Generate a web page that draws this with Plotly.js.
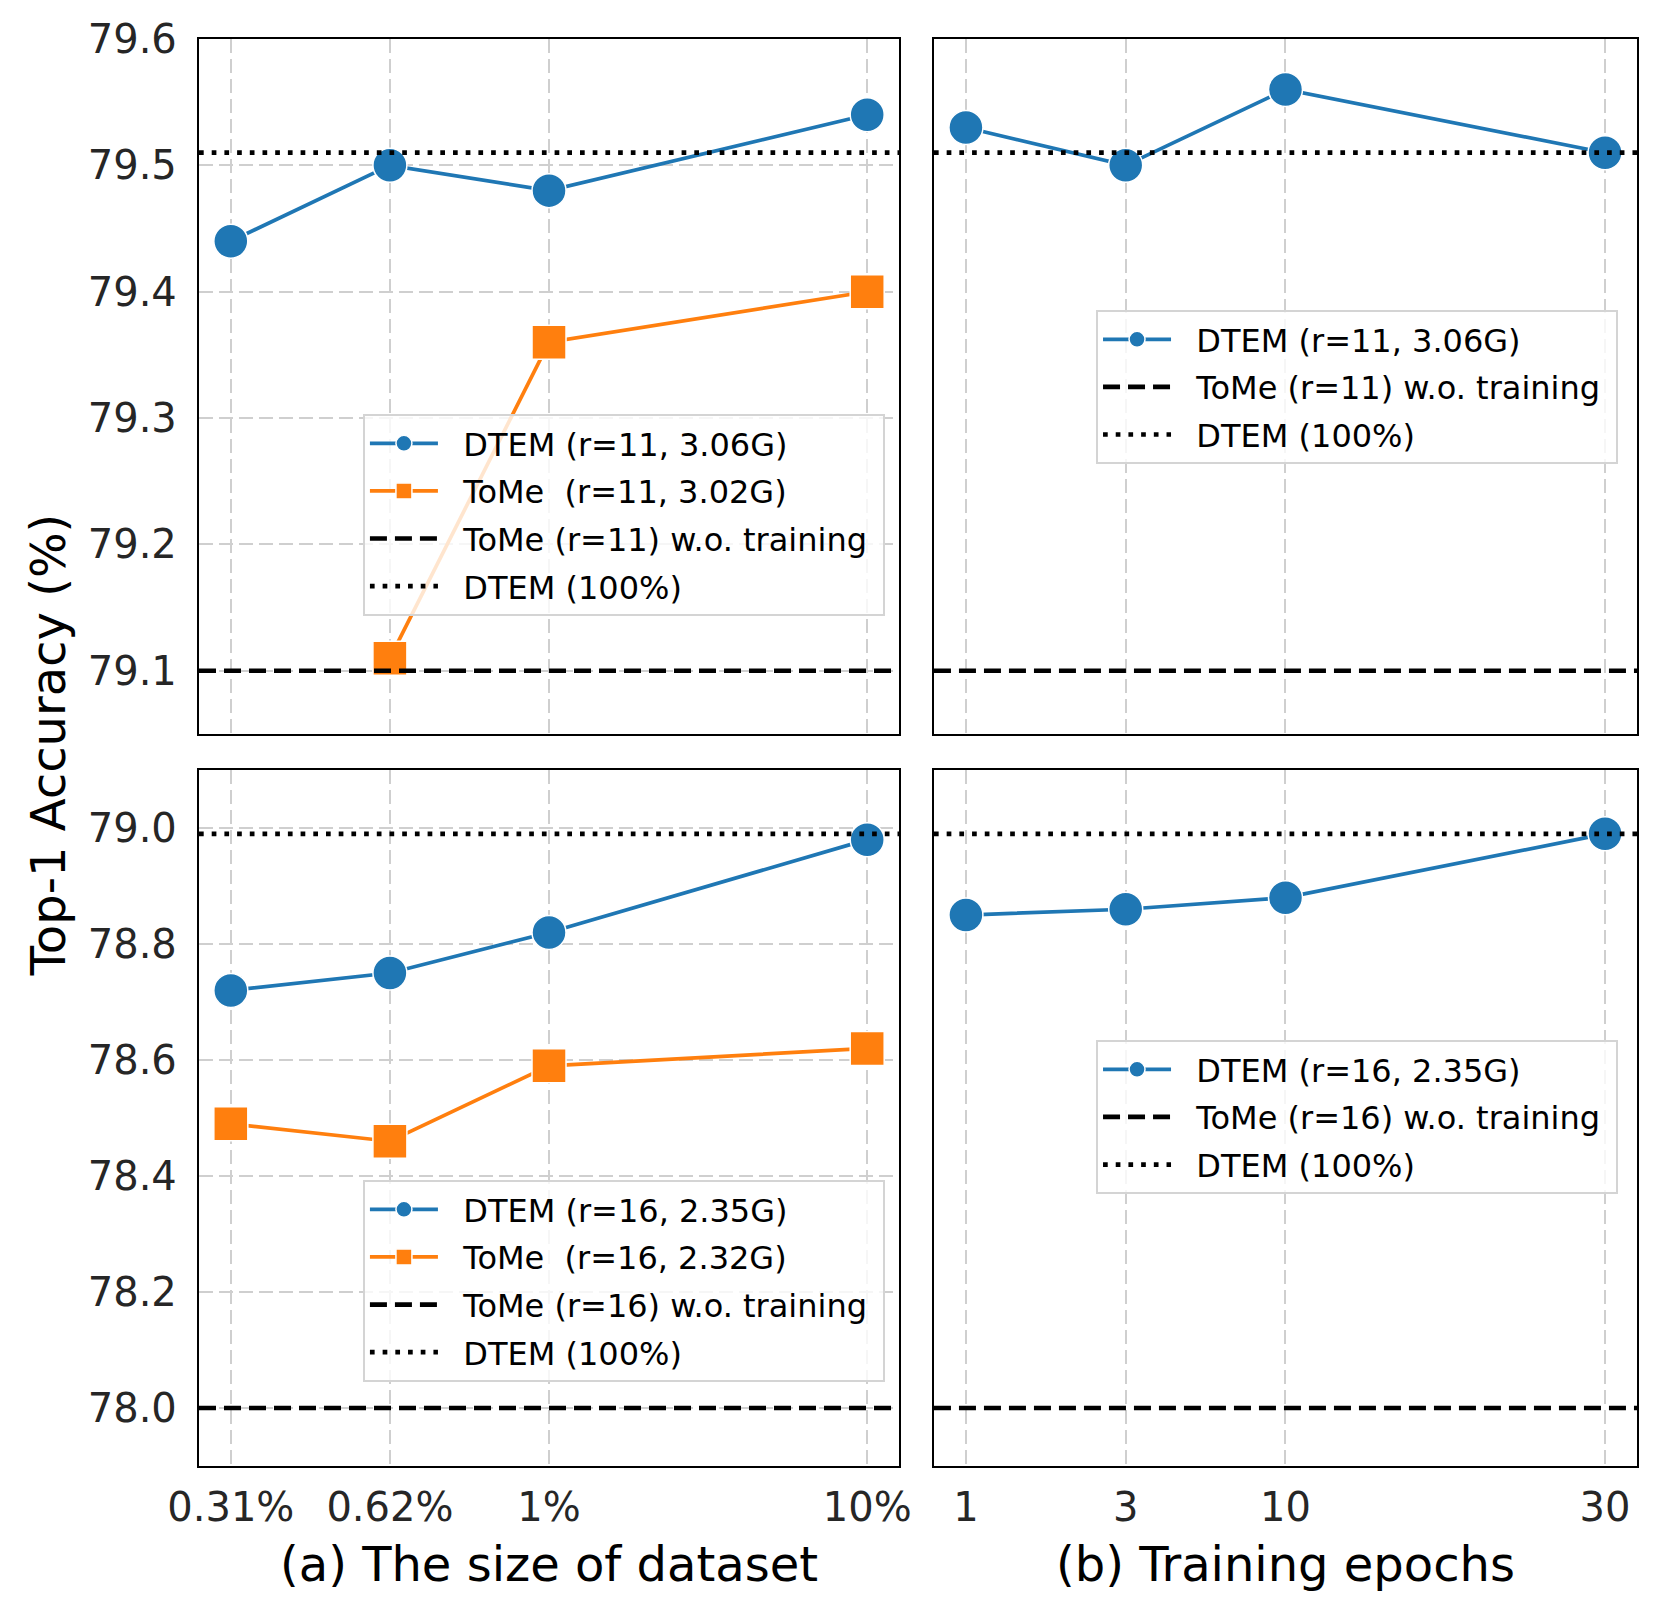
<!DOCTYPE html>
<html>
<head>
<meta charset="utf-8">
<script src="https://cdn.plot.ly/plotly-3.0.1.min.js"></script>
<style>html,body{margin:0;padding:0;background:#fff;}#chart{width:1659px;height:1612px;}</style>
</head>
<body>
<div id="chart"></div>
<script>
// ---- data ----
const xPos = [0, 1, 2, 4];
const sizeLabels = ['0.31%', '0.62%', '1%', '10%'];
const epochLabels = ['1', '3', '10', '30'];

// (a) dataset size, r=11
const dtemSizeR11 = [79.44, 79.50, 79.48, 79.54];
const tomeSizeR11 = [null, 79.11, 79.36, 79.40];
// (b) epochs, r=11
const dtemEpochR11 = [79.53, 79.50, 79.56, 79.51];
// (a) dataset size, r=16
const dtemSizeR16 = [78.72, 78.75, 78.82, 78.98];
const tomeSizeR16 = [78.49, 78.46, 78.59, 78.62];
// (b) epochs, r=16
const dtemEpochR16 = [78.85, 78.86, 78.88, 78.99];

// reference levels
const tomeNoTrainR11 = 79.10;
const dtemFullR11 = 79.51;
const tomeNoTrainR16 = 78.00;
const dtemFullR16 = 78.99;

const namesR11 = ['DTEM (r=11, 3.06G)', 'ToMe\u00a0 (r=11, 3.02G)', 'ToMe (r=11) w.o. training', 'DTEM (100%)'];
const namesR16 = ['DTEM (r=16, 2.35G)', 'ToMe\u00a0 (r=16, 2.32G)', 'ToMe (r=16) w.o. training', 'DTEM (100%)'];

// ---- styles ----
const xRange = [-0.2, 4.2];
const BLUE = '#1f77b4', ORANGE = '#ff7f0e';
const FONT = 'DejaVu Sans';
const TICK_COLOR = '#262626';
const PAD = '\u00a0\u00a0';
let gid = 0;

function common(name, xa, ya, leg) {
  gid += 1;
  return {name: PAD + name + '\u00a0', xaxis: xa, yaxis: ya, legend: leg, legendgroup: 'g' + gid, type: 'scatter'};
}
function dtemTrace(y, name, xa, ya, leg) {
  return Object.assign(common(name, xa, ya, leg), {x: xPos, y: y,
    mode: 'lines+markers', cliponaxis: false,
    line: {color: BLUE, width: 3.7},
    marker: {symbol: 'circle', size: 34, color: BLUE, line: {color: '#ffffff', width: 1.5}}});
}
function tomeTrace(y, name, xa, ya, leg) {
  return Object.assign(common(name, xa, ya, leg), {x: xPos, y: y,
    mode: 'lines+markers', cliponaxis: false, connectgaps: false,
    line: {color: ORANGE, width: 3.7},
    marker: {symbol: 'square', size: 34, color: ORANGE, line: {color: '#ffffff', width: 1.5}}});
}
function hline(v, name, dash, xa, ya, leg) {
  return Object.assign(common(name, xa, ya, leg), {x: xRange, y: [v, v],
    mode: 'lines', hoverinfo: 'skip',
    line: {color: '#000000', width: 4.7, dash: dash}});
}
const DASHED = '17px,8px';
const DOTTED = '4.7px,8px';

const traces = [
  dtemTrace(dtemSizeR11, namesR11[0], 'x', 'y', 'legend'),
  tomeTrace(tomeSizeR11, namesR11[1], 'x', 'y', 'legend'),
  hline(tomeNoTrainR11, namesR11[2], DASHED, 'x', 'y', 'legend'),
  hline(dtemFullR11, namesR11[3], DOTTED, 'x', 'y', 'legend'),

  dtemTrace(dtemEpochR11, namesR11[0], 'x2', 'y2', 'legend2'),
  hline(tomeNoTrainR11, namesR11[2], DASHED, 'x2', 'y2', 'legend2'),
  hline(dtemFullR11, namesR11[3], DOTTED, 'x2', 'y2', 'legend2'),

  dtemTrace(dtemSizeR16, namesR16[0], 'x3', 'y3', 'legend3'),
  tomeTrace(tomeSizeR16, namesR16[1], 'x3', 'y3', 'legend3'),
  hline(tomeNoTrainR16, namesR16[2], DASHED, 'x3', 'y3', 'legend3'),
  hline(dtemFullR16, namesR16[3], DOTTED, 'x3', 'y3', 'legend3'),

  dtemTrace(dtemEpochR16, namesR16[0], 'x4', 'y4', 'legend4'),
  hline(tomeNoTrainR16, namesR16[2], DASHED, 'x4', 'y4', 'legend4'),
  hline(dtemFullR16, namesR16[3], DOTTED, 'x4', 'y4', 'legend4'),
];

const GRID = {showgrid: true, gridcolor: '#cfcfcf', gridwidth: 2, griddash: '14px,6px'};
const FRAME = {showline: true, mirror: true, linecolor: '#000000', linewidth: 2.2, zeroline: false, ticks: ''};
const TICKFONT = {family: FONT, size: 40, color: TICK_COLOR};

function xAx(domain, anchor, labels) {
  return Object.assign({}, GRID, FRAME, {domain: domain, anchor: anchor, range: xRange,
    tickmode: 'array', tickvals: xPos, ticktext: labels || xPos.map(() => ''),
    showticklabels: !!labels, tickfont: TICKFONT, ticklabelstandoff: 5});
}
function yAx(domain, anchor, range, dtick, labels) {
  return Object.assign({}, FRAME, labels ? GRID : {showgrid: false}, {domain: domain, anchor: anchor, range: range,
    dtick: dtick, tick0: 78, tickformat: '.1f', showticklabels: labels, tickfont: TICKFONT,
    ticklabelstandoff: 12});
}

const LEFT = [0, 0.4868], RIGHT = [0.5111, 1];
const TOP = [0.513, 1], BOTTOM = [0, 0.4877];

function legendBox(x, y) {
  return {x: x, y: y, xanchor: 'left', yanchor: 'top', traceorder: 'grouped',
    bgcolor: 'rgba(255,255,255,0.8)', bordercolor: '#d4d4d4', borderwidth: 2,
    font: {family: FONT, size: 32, color: '#000000'}, itemwidth: 68, tracegroupgap: 3};
}

const layout = {
  width: 1659, height: 1612,
  margin: {l: 199, r: 22, t: 39, b: 146},
  paper_bgcolor: '#ffffff', plot_bgcolor: '#ffffff',
  font: {family: FONT, color: '#000000'},
  showlegend: true,
  xaxis: xAx(LEFT, 'y', null),
  yaxis: yAx(TOP, 'x', [79.05, 79.6], 0.1, true),
  xaxis2: xAx(RIGHT, 'y2', null),
  yaxis2: yAx(TOP, 'x2', [79.05, 79.6], 0.1, false),
  xaxis3: xAx(LEFT, 'y3', sizeLabels),
  yaxis3: yAx(BOTTOM, 'x3', [77.9, 79.1], 0.2, true),
  xaxis4: xAx(RIGHT, 'y4', epochLabels),
  yaxis4: yAx(BOTTOM, 'x4', [77.9, 79.1], 0.2, false),
  legend: legendBox(0.114, 0.7372),
  legend2: legendBox(0.6238, 0.8101),
  legend3: legendBox(0.114, 0.2004),
  legend4: legendBox(0.6238, 0.2985),
  annotations: [
    {text: '(a) The size of dataset', xref: 'x3 domain', x: 0.5, yref: 'paper', y: 0,
     xanchor: 'center', yanchor: 'middle', yshift: -98, showarrow: false,
     font: {family: FONT, size: 48, color: '#000000'}},
    {text: '(b) Training epochs', xref: 'x4 domain', x: 0.5, yref: 'paper', y: 0,
     xanchor: 'center', yanchor: 'middle', yshift: -98, showarrow: false,
     font: {family: FONT, size: 48, color: '#000000'}},
    {text: 'Top-1 Accuracy (%)', xref: 'paper', x: 0, xshift: -151, yref: 'paper', y: 0.505,
     xanchor: 'center', yanchor: 'middle', textangle: -90, showarrow: false,
     font: {family: FONT, size: 48, color: '#000000'}}
  ]
};

Plotly.newPlot('chart', traces, layout, {staticPlot: true, displayModeBar: false});
</script>
</body>
</html>
